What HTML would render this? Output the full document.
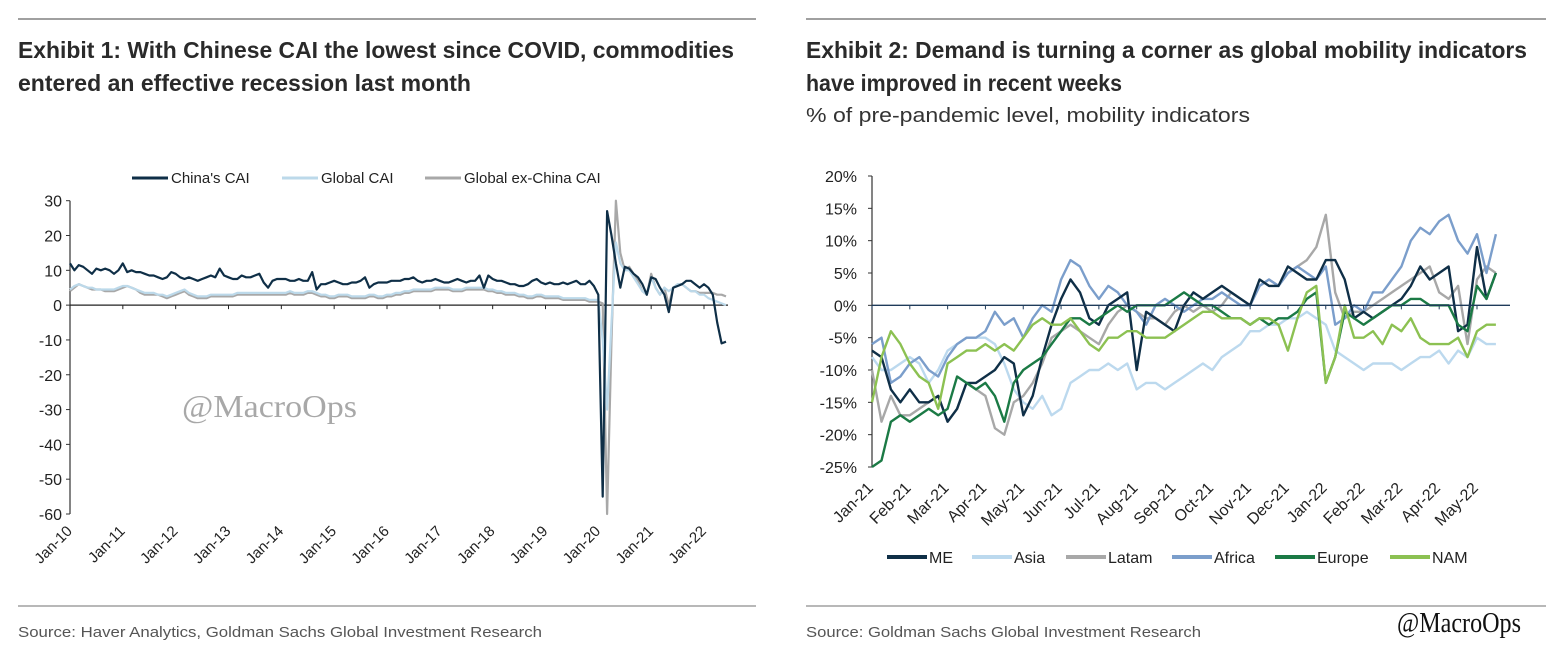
<!DOCTYPE html>
<html><head><meta charset="utf-8"><style>
html,body{margin:0;padding:0;background:#fff;}
svg{display:block;font-family:"Liberation Sans",sans-serif;}
</style></head><body>
<svg id="root" width="1564" height="652" viewBox="0 0 1564 652" xmlns="http://www.w3.org/2000/svg">
<rect width="1564" height="652" fill="#fff"/>
<line x1="18" y1="19" x2="756" y2="19" stroke="#a0a0a0" stroke-width="2"/>
<line x1="806" y1="19" x2="1546" y2="19" stroke="#a0a0a0" stroke-width="2"/>
<line x1="18" y1="606" x2="756" y2="606" stroke="#a0a0a0" stroke-width="1.5"/>
<line x1="806" y1="606" x2="1546" y2="606" stroke="#a0a0a0" stroke-width="1.5"/>
<g font-family="'Liberation Sans Narrow','Liberation Sans',sans-serif" font-weight="bold" font-size="23" fill="#2a2a2a">
<text x="18" y="58" textLength="716" lengthAdjust="spacingAndGlyphs">Exhibit 1: With Chinese CAI the lowest since COVID, commodities</text>
<text x="18" y="91" textLength="453" lengthAdjust="spacingAndGlyphs">entered an effective recession last month</text>
<text x="806" y="58" textLength="721" lengthAdjust="spacingAndGlyphs">Exhibit 2: Demand is turning a corner as global mobility indicators</text>
<text x="806" y="91" textLength="316" lengthAdjust="spacingAndGlyphs">have improved in recent weeks</text>
</g>
<text x="806" y="122" font-size="20" fill="#333" textLength="444" lengthAdjust="spacingAndGlyphs">% of pre-pandemic level, mobility indicators</text>
<text x="18" y="637" font-size="15" fill="#555" textLength="524" lengthAdjust="spacingAndGlyphs">Source: Haver Analytics, Goldman Sachs Global Investment Research</text>
<text x="806" y="637" font-size="15" fill="#555" textLength="395" lengthAdjust="spacingAndGlyphs">Source: Goldman Sachs Global Investment Research</text>
<text x="1397" y="632" font-family="'Liberation Serif',serif" font-size="28" fill="#111" textLength="124" lengthAdjust="spacingAndGlyphs">@MacroOps</text>
<g id="left"></g>
<g id="right"></g>
<text x="182" y="417" font-family="'Liberation Serif',serif" font-size="32" fill="#9a9a9a" opacity="0.85" textLength="175" lengthAdjust="spacingAndGlyphs">@MacroOps</text>
</svg>
<script>
// ---------- Exhibit 1 data (monthly, Jan-10 ..) ----------
const leftYTicks = [30,20,10,0,-10,-20,-30,-40,-50,-60];
const leftXLabels = ["Jan-10","Jan-11","Jan-12","Jan-13","Jan-14","Jan-15","Jan-16","Jan-17","Jan-18","Jan-19","Jan-20","Jan-21","Jan-22"];
const chinaCAI = [12,10,11.5,11,10,9,10.5,10,10.5,10,9,10,
12,9.5,10,9.5,9.5,9,8.5,8.5,8,7.5,8,9.5,
9,8,7.5,8,7.5,7,7.5,8,8.5,8,10.5,8.5,
8,7.5,7.5,8.5,8,8,8.5,9,6.5,5,7,7.5,
7.5,7.5,7,7,7.5,7,7,9.5,4.5,6,6,6.5,
7,6.5,6,6,6.5,6.5,7,8,5,6,6.5,6.5,
6.5,7,7,7,7.5,7.5,8,7,6.5,7,7,7.5,
7,6.5,6.5,7,7.5,7,6.5,7,7,8.5,5,8.5,
7.5,7,7,6.5,6,6,5.5,5.5,6,7,7.5,6.5,
6,6.5,6,6,6.5,6,6.5,7,6,6,7,5.5,
3,-55,27,20,12,5,11,10.5,9,8,6,3,
8,7.5,5,3,-2,5,5.5,6,7,7,6,5,
6,5,3,-5,-11,-10.5];
const globalCAI = [4.5,5.5,6,5.5,5,5,4.5,4.5,4.5,4.5,4.5,5,
5.5,5.5,5,4.5,4,3.5,3.5,3.5,3,3,2.5,3,
3.5,4,4.5,3.5,3,2.5,2.5,2.5,3,3,3,3,
3,3,3.5,3.5,3.5,3.5,3.5,3.5,3.5,3.5,3.5,3.5,
3.5,3.5,4,3.5,3.5,3.5,4,4,3.5,3,3,2.5,
2.5,3,3,3,2.5,2.5,2.5,2.5,3,3,2.5,2.5,
3,3,3.5,3.5,4,4,4.5,4.5,4.5,4.5,4.5,5,
5,5,5,4.5,4.5,4.5,5,5,5,5,5,4.5,
4.5,4,4,3.5,3.5,3.5,3,3,2.5,2.5,3,3,
2.5,2.5,2.5,2.5,2,2,2,2,2,2,1.5,1.5,
1.5,-10,-30,-5,18,12,10,10,8,6,4,3,
8,5,3,5,4,5,6,6,5,4,4,3,
3,2,1.5,1,0.5,0];
const globalExChinaCAI = [4,5,6,5.5,5,4.5,4.5,4.5,4,4,4,4.5,
5,5.5,5,4.5,3.5,3,3,3,3,2.5,2,2.5,
3,3.5,4,3,2.5,2,2,2,2.5,2.5,2.5,2.5,
2.5,2.5,3,3,3,3,3,3,3,3,3,3,
3,3,3.5,3,3,3,3.5,3.5,3,2.5,2.5,2,
2,2.5,2.5,2.5,2,2,2,2,2.5,2.5,2,2,
2.5,2.5,3,3,3.5,3.5,4,4,4,4,4,4.5,
4.5,4.5,4.5,4,4,4,4.5,4.5,4.5,4.5,4.5,4,
4,3.5,3.5,3,3,3,2.5,2.5,2,2,2.5,2.5,
2,2,2,2,1.5,1.5,1.5,1.5,1.5,1.5,1,1,
1,0.5,-60,-10,30,15,10,11,9,7,4,3,
9,5,3,5,0,5,6,6,5,4,4,3.5,
3.5,3.5,3.5,3,3,2.5];
// ---------- Exhibit 2 data (weekly, 4 per month, Jan-21 ..) ----------
const rightYTicks = [20,15,10,5,0,-5,-10,-15,-20,-25];
const rightXLabels = ["Jan-21","Feb-21","Mar-21","Apr-21","May-21","Jun-21","Jul-21","Aug-21","Sep-21","Oct-21","Nov-21","Dec-21","Jan-22","Feb-22","Mar-22","Apr-22","May-22"];
const seriesNames = ["ME","Asia","Latam","Africa","Europe","NAM"];
const meVals = [-7,-8,-13,-15,-13,-15,-15,-14,-18,-16,-12,-12,-11,-10,-8,-9,-17,-14,-8,-3,1,4,2,-2,-3,0,1,2,-10,-1,-2,-3,-4,0,2,1,2,3,2,1,0,4,3,3,6,5,4,4,7,7,4,-2,-1,-2,-1,0,1,3,6,4,5,6,-4,-3,9,1,5];
const asiaVals = [-8,-10,-10,-9,-8,-9,-12,-10,-7,-6,-5,-5,-5,-6,-9,-13,-15,-16,-14,-17,-16,-12,-11,-10,-10,-9,-10,-9,-13,-12,-12,-13,-12,-11,-10,-9,-10,-8,-7,-6,-4,-4,-3,-3,-2,-2,-1,-2,-3,-7,-8,-9,-10,-9,-9,-9,-10,-9,-8,-8,-7,-9,-7,-8,-5,-6,-6];
const latamVals = [-10,-18,-14,-17,-17,-16,-15,-14,-18,-16,-12,-13,-14,-19,-20,-15,-14,-12,-9,-5,-4,-3,-4,-5,-6,-3,-1,0,-1,-2,-2,-3,-1,0,-1,0,-1,0,2,1,0,3,4,3,5,6,7,9,14,2,-2,-1,-1,0,1,2,3,4,5,6,2,1,3,-6,4,6,5];
const africaVals = [-6,-5,-12,-11,-9,-8,-10,-11,-8,-6,-5,-5,-4,-1,-3,-2,-5,-2,0,-1,4,7,6,3,1,3,2,0,-1,-3,0,1,0,-1,0,1,1,2,1,0,0,3,4,3,5,6,5,4,6,-3,-2,0,-1,2,2,4,6,10,12,11,13,14,10,8,11,5,11];
const europeVals = [-25,-24,-18,-17,-18,-17,-16,-17,-16,-11,-12,-13,-12,-14,-18,-12,-10,-9,-8,-6,-4,-2,-2,-3,-2,-1,0,-1,0,0,0,0,1,2,1,0,0,-1,-2,-2,-3,-2,-3,-2,-2,-1,1,2,-12,-8,-1,-2,-3,-2,-1,0,0,1,1,0,0,0,-3,-4,3,1,5];
const namVals = [-15,-8,-4,-6,-9,-11,-12,-16,-9,-8,-7,-7,-6,-7,-6,-7,-5,-3,-2,-3,-3,-2,-4,-6,-7,-5,-5,-4,-4,-5,-5,-5,-4,-3,-2,-1,-1,-2,-2,-2,-3,-2,-2,-3,-7,-2,2,3,-12,-8,0,-5,-5,-4,-6,-3,-4,-2,-5,-6,-6,-6,-5,-8,-4,-3,-3];

const NS = "http://www.w3.org/2000/svg";
function mk(tag, attrs, parent){ const e=document.createElementNS(NS,tag); for(const k in attrs) e.setAttribute(k,attrs[k]); parent.appendChild(e); return e; }

// ---------- Left chart ----------
(function(){
  const g = document.getElementById('left');
  const x0=70, xJan22=704, yTop=200.7, yBot=514;
  const yS = v => yTop + (30 - v) * (yBot - yTop) / 90;
  const perMonth = (xJan22 - x0) / 144;
  const xS = i => x0 + i * perMonth;
  const ax = mk('line',{x1:x0,y1:yTop,x2:x0,y2:yBot,stroke:'#333','stroke-width':1.2},g);
  
  
  leftYTicks.forEach(v=>{
    const t=mk('line',{x1:x0-4,y1:yS(v),x2:x0,y2:yS(v),stroke:'#333'},g);
    
    
    const l=mk('text',{x:x0-8,y:yS(v)+6,'text-anchor':'end','font-size':16,fill:'#222'},g);
    l.textContent=v;
    
    
  });
  const xa = mk('line',{x1:x0,y1:yS(0),x2:xS(chinaCAI.length-1)+2,y2:yS(0),stroke:'#222','stroke-width':1.2},g);
  
  
  leftXLabels.forEach((lab,k)=>{
    const x=xS(k*12);
    const t=mk('line',{x1:x,y1:yS(0),x2:x,y2:yS(0)+4,stroke:'#222'},g);
    
    
    const l=mk('text',{x:0,y:0,'text-anchor':'end','font-size':15,fill:'#222',transform:`translate(${x+3},${532}) rotate(-45)`},g);
    l.textContent=lab;
    
    
  });
  const series=[[globalExChinaCAI,'#a8a8a8','global-ex-china-cai-line'],[globalCAI,'#bcd9ea','global-cai-line'],[chinaCAI,'#0f2f47','china-cai-line']];
  series.forEach(([arr,col,name])=>{
    const p=mk('polyline',{points:arr.map((v,i)=>xS(i).toFixed(1)+','+yS(v).toFixed(1)).join(' '),fill:'none',stroke:col,'stroke-width':2.2,'stroke-linejoin':'round'},g);
    
    
  });
  const leg=[["China's CAI",'#0f2f47',132],['Global CAI','#bcd9ea',282],['Global ex-China CAI','#a8a8a8',425]];
  leg.forEach(([lab,col,x])=>{
    const gg=mk('g',{},g);
    
    
    mk('line',{x1:x,y1:178,x2:x+36,y2:178,stroke:col,'stroke-width':3},gg);
    const t=mk('text',{x:x+39,y:183,'font-size':15,fill:'#222'},gg);
    t.textContent=lab;
  });
})();

// ---------- Right chart ----------
(function(){
  const g=document.getElementById('right');
  const x0=872, xMay22=1477, yTop=176, yBot=467;
  const yS=v=>yTop+(20-v)*(yBot-yTop)/45;
  const perMonth=(xMay22-x0)/16;
  const perWeek=perMonth/4;
  const xS=i=>x0+i*perWeek;
  const ax=mk('line',{x1:x0,y1:yTop,x2:x0,y2:yBot,stroke:'#333','stroke-width':1.2},g);
  
  
  rightYTicks.forEach(v=>{
    const t=mk('line',{x1:x0-4,y1:yS(v),x2:x0,y2:yS(v),stroke:'#333'},g);
    
    
    const l=mk('text',{x:857,y:yS(v)+6,'text-anchor':'end','font-size':16,fill:'#222'},g);
    l.textContent=v+'%';
    
    
  });
  rightXLabels.forEach((lab,k)=>{
    const x=x0+k*perMonth;
    const t=mk('line',{x1:x,y1:yS(0),x2:x,y2:yS(0)+4,stroke:'#1f3b5a'},g);
    
    
    const l=mk('text',{x:0,y:0,'text-anchor':'end','font-size':16,fill:'#222',transform:`translate(${x+2},${489}) rotate(-45)`},g);
    l.textContent=lab;
    
    
  });
  const cols=['#0f2f47','#bcd9ee','#a8a8a8','#7b9ecb','#1b7a45','#8cc152'];
  const arrs=[meVals,asiaVals,latamVals,africaVals,europeVals,namVals];
  const order=[1,2,3,0,4,5];
  order.forEach(s=>{
    const p=mk('polyline',{points:arrs[s].map((v,i)=>xS(i).toFixed(1)+','+yS(v).toFixed(1)).join(' '),fill:'none',stroke:cols[s],'stroke-width':2.4,'stroke-linejoin':'round'},g);
    
    
  });
  const za=mk('line',{x1:x0,y1:yS(0),x2:1510,y2:yS(0),stroke:'#1f3b5a','stroke-width':1.4},g);
  
  
  const legX=[887,972,1066,1172,1275,1390];
  seriesNames.forEach((n,s)=>{
    const gg=mk('g',{},g);
    
    
    mk('line',{x1:legX[s],y1:557,x2:legX[s]+40,y2:557,stroke:cols[s],'stroke-width':4},gg);
    const t=mk('text',{x:legX[s]+42,y:563,'font-size':16,fill:'#222'},gg);
    t.textContent=n;
  });
})();
</script>
</body></html>
